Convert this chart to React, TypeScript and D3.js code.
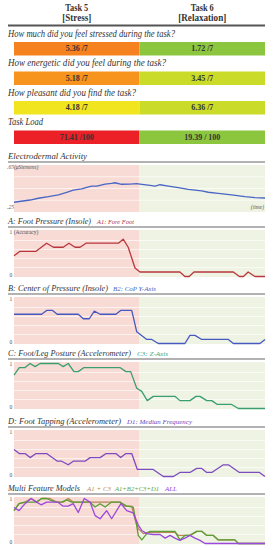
import React from "react";
import * as d3 from "d3";

// ---------- data ----------
const taskHeaders = [["Task 5", "[Stress]"], ["Task 6", "[Relaxation]"]];
const questions = [
  "How much did you feel stressed during the task?",
  "How energetic did you feel during the task?",
  "How pleasant did you find the task?",
  "Task Load",
];
const stressScores = ["5.36 /7", "5.18 /7", "4.18 /7", "71.41 /100"];
const relaxScores = ["1.72 /7", "3.45 /7", "6.36 /7", "19.39 / 100"];
const stressColors = ["#f5821f", "#f7941d", "#f0e51e", "#ec2027"];
const relaxColors = ["#8cc63f", "#cbdb2a", "#cbdb2a", "#8cc63f"];

// time (0..100, split at 50) , value
const edaSeries: [number, number][] = [
  [0, .333], [6.4, .352], [9.7, .367], [13.7, .38], [17.7, .395], [21, .418], [23.6, .437], [27, .446],
  [29, .46], [31, .471], [33, .471], [36.3, .488], [38.9, .494], [40.2, .499], [42.9, .486], [46.2, .488],
  [48.9, .491], [50.2, .488], [54.2, .477], [56.2, .471], [58.2, .482], [61.5, .471], [65.5, .457],
  [69.4, .443], [74.8, .429], [77.4, .418], [81.4, .409], [86.7, .395], [92, .38], [96, .372], [100, .369],
];
const footPressure: [number, number][] = [
  [0, .46], [2.4, .56], [8.8, .56], [13, .74], [15.7, .65], [19.6, .65], [21.9, .74], [24.3, .65], [26.3, .65],
  [28.7, .74], [41.6, .74], [43.5, .83], [45.5, .65], [48.2, .19], [50.2, .10], [66.1, .10], [68.1, 0],
  [69.8, 0], [71.7, .10], [87.4, .10], [89.8, 0], [91.4, 0], [93.3, .10], [96, 0], [100, 0],
];
const centerPressure: [number, number][] = [
  [0, .65], [11, .65], [13, .735], [15.4, .735], [17.2, .65], [25.6, .65], [27.6, .55], [30, .55], [32, .72],
  [34.3, .65], [40.6, .65], [42.5, .735], [46.9, .735], [48.9, .26], [52.9, .09], [54.9, .09], [57.5, 0],
  [68.1, 0], [70.1, .18], [72.1, .18], [74.8, .09], [85.4, .09], [87.4, 0], [98, 0], [100, .09],
];
const legPosture: [number, number][] = [
  [0, .74], [2.1, .91], [4.4, .91], [6.4, 1], [8.4, .93], [10.4, 1], [17.7, 1], [19.6, .93], [21.6, 1],
  [23.9, .82], [25.6, .82], [27.9, .91], [42.2, .91], [44.6, .82], [46.5, .82], [48.9, .45], [50.9, .38],
  [53.1, .175], [55.5, .27], [64.1, .27], [66.1, .175], [70.1, .175], [72.5, .27], [74.1, .27], [76.8, .175],
  [78.8, .175], [81, .09], [86.7, .09], [89.4, 0], [100, 0],
];
const footTapping: [number, number][] = [
  [0, .60], [2.1, .51], [4.4, .51], [6.4, .42], [8.8, .51], [13, .51], [17.3, .34], [19, .34], [21.6, .26],
  [23.6, .34], [28.3, .34], [30.3, .42], [34.3, .42], [36.7, .51], [40.6, .51], [42.5, .42], [44.6, .51],
  [46.9, .51], [49.1, .16], [55.3, .16], [59.5, 0], [63.5, 0], [66.1, .09], [70.1, .09], [72.8, .18],
  [74.8, .18], [76.8, .09], [78.8, .09], [83.4, .26], [85.4, .26], [89.8, .09], [97.8, .09], [100, 0],
];
const modelA1C3: [number, number][] = [
  [0, .73], [2, .885], [4.4, .92], [6.8, 1], [9, .92], [11, 1], [14.3, 1], [17, .92], [19.6, .92], [21.6, 1],
  [23.6, .92], [42.2, .92], [44.2, .83], [46.9, .83], [48.2, .54], [49.5, .33], [51.5, .22], [53.5, .25],
  [64.1, .25], [65.5, .18], [70.1, .18], [72.8, .27], [74.8, .27], [76.8, .18], [79.4, .18], [81.4, .08],
  [88, .08], [89.4, 0], [100, 0],
];
const modelA1B2C3D1: [number, number][] = [
  [0, .73], [2, .885], [4.4, .92], [9, .92], [11, 1], [13, 1], [15, .95], [17, .92], [19, .92], [21, .97],
  [23, .92], [30.3, .92], [32.3, .81], [34.3, .885], [36.3, .81], [38.9, .92], [42.2, .92], [44.9, .83],
  [47.5, .81], [48.9, .39], [49.5, .18], [50.9, .08], [52.9, .22], [54.2, .27], [64.1, .27], [66.1, .08],
  [68.1, .18], [70.1, .18], [72.8, .27], [74.8, .27], [76.8, .18], [79.4, .18], [81.4, .08], [88, .08],
  [89.4, 0], [100, 0],
];
const modelAll: [number, number][] = [
  [0, .80], [2, .73], [4.4, .885], [6.8, 1], [9, .92], [10.8, .86], [13, .92], [17.4, .92], [19.6, .83],
  [21.6, .83], [23.6, .885], [25.6, .69], [28, 1], [30.3, .92], [32.3, .62], [34.3, .55], [36.9, .73],
  [38.9, .55], [42.6, .885], [44.9, .73], [47.5, .68], [49.5, .41], [50.9, .29], [52.9, .22], [55.5, .2],
  [58.2, .2], [60.2, .12], [62.2, .18], [64.1, .12], [66.1, .07], [68.1, .12], [70.1, .18], [72.1, .12],
  [74.1, .07], [76.1, 0], [100, 0],
];

// ---------- layout ----------
const W = 273, H = 550;
const X0 = 14, X1 = 265, LEFT = 8;
const SPLIT = 50;
const SERIF = "'Liberation Serif', 'DejaVu Serif', serif";

const x = d3.scaleLinear().domain([0, 100]).range([X0, X1]);

type Line = { data: [number, number][]; color: string };
type Panel = {
  title: string; titleLen: number;
  subs: { text: string; color: string; x: number; len: number }[];
  ruleY: number;
  domain: [number, number];
  grid: number[];
  lines: Line[];
  kind: "eda" | "acc" | "plain";
};

const panels: Panel[] = [
  { title: "Electrodermal Activity", titleLen: 79, subs: [], ruleY: 162, domain: [.25, .65], grid: [.35, .45, .55],
    lines: [{ data: edaSeries, color: "#4a66c4" }], kind: "eda" },
  { title: "A: Foot Pressure (Insole)", titleLen: 83, subs: [{ text: "A1: Fore Foot", color: "#b2323f", x: 97, len: 37 }],
    ruleY: 227, domain: [0, 1], grid: [.2, .4, .6, .8], lines: [{ data: footPressure, color: "#b8373c" }], kind: "acc" },
  { title: "B: Center of Pressure (Insole)", titleLen: 100, subs: [{ text: "B2: CoP Y-Axis", color: "#4a5fc0", x: 113, len: 43 }],
    ruleY: 294, domain: [0, 1], grid: [.2, .4, .6, .8], lines: [{ data: centerPressure, color: "#4659c0" }], kind: "plain" },
  { title: "C: Foot/Leg Posture (Accelerometer)", titleLen: 123, subs: [{ text: "C3: Z-Axis", color: "#3aa57c", x: 137, len: 31 }],
    ruleY: 359, domain: [0, 1], grid: [.2, .4, .6, .8], lines: [{ data: legPosture, color: "#3a9e70" }], kind: "plain" },
  { title: "D: Foot Tapping (Accelerometer)", titleLen: 113, subs: [{ text: "D1: Median Frequency", color: "#7342b8", x: 127, len: 65 }],
    ruleY: 427, domain: [0, 1], grid: [.2, .4, .6, .8], lines: [{ data: footTapping, color: "#7b4bbf" }], kind: "plain" },
  { title: "Multi Feature Models", titleLen: 72,
    subs: [
      { text: "A1 + C3", color: "#c08a4e", x: 87, len: 24 },
      { text: "A1+B2+C3+D1", color: "#5ea33c", x: 115, len: 44 },
      { text: "ALL", color: "#9344d6", x: 165, len: 12 },
    ],
    ruleY: 494, domain: [0, 1], grid: [.2, .4, .6, .8],
    lines: [
      { data: modelA1C3, color: "#b8875a" },
      { data: modelA1B2C3D1, color: "#5a9e35" },
      { data: modelAll, color: "#9b48dc" },
    ], kind: "plain" },
];

const PANEL_OFF = 3, PANEL_H = 47;
const barTops = [42, 71.5, 101, 130.5];
const BAR_H = 13.5;
const qLens = [167, 158, 128, 35];

function PanelView({ p }: { p: Panel }) {
  const top = p.ruleY + PANEL_OFF;
  const bottom = top + PANEL_H;
  const y = p.kind === "eda"
    ? d3.scaleLinear().domain(p.domain).range([bottom, top])
    : d3.scaleLinear().domain(p.domain).range([bottom - 0.5, top + 1.5]);
  const line = d3.line<[number, number]>().x(d => x(d[0])).y(d => y(d[1]));
  return (
    <g>
      <text x={LEFT} y={p.ruleY - 3} fontFamily={SERIF} fontStyle="italic" fontSize={8.5} fill="#333"
        textLength={p.titleLen} lengthAdjust="spacingAndGlyphs">{p.title}</text>
      {p.subs.map((s, i) => (
        <text key={i} x={s.x} y={p.ruleY - 3.5} fontFamily={SERIF} fontStyle="italic" fontSize={6.3} fill={s.color}
          textLength={s.len} lengthAdjust="spacingAndGlyphs">{s.text}</text>
      ))}
      <line x1={LEFT} x2={X1} y1={p.ruleY} y2={p.ruleY} stroke="#999" strokeWidth={1.5} />
      <rect x={x(0)} y={top} width={x(SPLIT) - x(0)} height={PANEL_H} fill="#f8dbd4" />
      <rect x={x(SPLIT)} y={top} width={x(100) - x(SPLIT)} height={PANEL_H} fill="#eef3e3" />
      {p.grid.map((g, i) => (
        <line key={i} x1={X0} x2={X1} y1={y(g)} y2={y(g)} stroke="#ffffff" strokeOpacity={0.8} strokeWidth={0.8} />
      ))}
      {p.kind === "eda" ? (
        <g fontFamily={SERIF} fontStyle="italic" fontSize={5.5} fill="#555">
          <text x={7} y={top + 3.5}>.65(μSiemens)</text>
          <text x={7} y={bottom - 3}>.25</text>
          <text x={X1 - 1} y={bottom - 3.5} textAnchor="end">(time)</text>
        </g>
      ) : (
        <g fontFamily={SERIF} fontSize={5.5} fill="#555">
          <text x={9.5} y={top + 4}>{p.kind === "acc" ? "1 (Accuracy)" : "1"}</text>
          <text x={9.5} y={bottom}>0</text>
        </g>
      )}
      {p.lines.map((l, i) => (
        <path key={i} d={line(l.data) || ""} fill="none" stroke={l.color} strokeWidth={1.3} strokeLinejoin="round" />
      ))}
    </g>
  );
}

export default function App() {
  const centers = [x(SPLIT / 2), x((SPLIT + 100) / 2)];
  return (
    <svg width={W} height={H} viewBox={`0 0 ${W} ${H}`}
      style={{ position: "absolute", left: 0, top: 0, background: "#fff" }}>
      {taskHeaders.map((h, i) => (
        <g key={i} fontFamily={SERIF} fontWeight="bold" fontSize={10} fill="#333" textAnchor="middle">
          <text x={centers[i]} y={10.5} textLength={23} lengthAdjust="spacingAndGlyphs">{h[0]}</text>
          <text x={centers[i]} y={20.5} textLength={i === 0 ? 29 : 48} lengthAdjust="spacingAndGlyphs">{h[1]}</text>
        </g>
      ))}
      <line x1={LEFT} x2={X1} y1={25.5} y2={25.5} stroke="#555" strokeWidth={2} />
      {questions.map((q, i) => (
        <g key={i}>
          <text x={LEFT} y={barTops[i] - 5.5} fontFamily={SERIF} fontStyle="italic" fontSize={9.5} fill="#333"
            textLength={qLens[i]} lengthAdjust="spacingAndGlyphs">{q}</text>
          <rect x={x(0)} y={barTops[i]} width={x(SPLIT) - x(0)} height={BAR_H} fill={stressColors[i]} />
          <rect x={x(SPLIT)} y={barTops[i]} width={x(100) - x(SPLIT)} height={BAR_H} fill={relaxColors[i]} />
          <text x={centers[0]} y={barTops[i] + 9.3} textAnchor="middle" fontFamily={SERIF} fontWeight="bold" fontSize={8} fill="#333">{stressScores[i]}</text>
          <text x={centers[1]} y={barTops[i] + 9.3} textAnchor="middle" fontFamily={SERIF} fontWeight="bold" fontSize={8} fill="#333">{relaxScores[i]}</text>
        </g>
      ))}
      {panels.map((p, i) => <PanelView key={i} p={p} />)}
    </svg>
  );
}
